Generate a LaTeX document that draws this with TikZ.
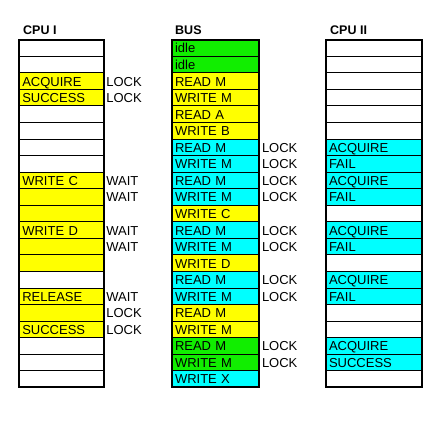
\documentclass[tikz,border=0pt]{standalone}
\usepackage{fontspec}
\setmainfont{Liberation Sans}
\definecolor{cy}{HTML}{00FFFF}
\definecolor{ye}{HTML}{FFFF00}
\definecolor{gr}{HTML}{11EE00}
\begin{document}
\begin{tikzpicture}[x=1pt,y=-1pt,
  cell/.style={draw, line width=0.8pt, anchor=north west, minimum height=16.55pt,
    inner xsep=3pt, inner ysep=0pt, outer sep=0pt, align=left,
    text height=11pt, text depth=1pt, font=\fontsize{13}{13}\selectfont},
  side/.style={anchor=west, inner xsep=2.5pt, inner ysep=0pt,
    text height=11pt, text depth=1pt, font=\fontsize{13}{13}\selectfont},
  head/.style={anchor=base west, inner sep=0pt, font=\fontsize{12.5}{12.5}\selectfont\bfseries},
  frame/.style={line width=2pt}]
\useasboundingbox (0,0) rectangle (448,422);
% headers
\node[head] (h1) at (23,35) {CPU I};
\node[head] (h2) at (175,35) {BUS};
\node[head] (h3) at (330,35) {CPU II};
% CPU I
\foreach \r/\f/\t in {1/white/{},2/white/{},3/ye/ACQUIRE,4/ye/SUCCESS,5/white/{},6/white/{},7/white/{},8/white/{},
  9/ye/WRITE C,10/ye/{},11/ye/{},12/ye/WRITE D,13/ye/{},14/ye/{},15/white/{},16/ye/RELEASE,17/ye/{},18/ye/SUCCESS,
  19/white/{},20/white/{},21/white/{}}
  \node[cell, fill=\f, text width=78.4pt] (a\r) at (19.3,{39.7+(\r-1)*16.55}) {\t};
\foreach \r/\l in {3/LOCK,4/LOCK,9/WAIT,10/WAIT,12/WAIT,13/WAIT,16/WAIT,17/LOCK,18/LOCK}
  \node[side] (al\r) at (a\r.east) {\l};
% BUS
\foreach \r/\f/\t in {1/gr/idle,2/gr/idle,3/ye/READ M,4/ye/WRITE M,5/ye/READ A,6/ye/WRITE B,7/cy/READ M,8/cy/WRITE M,
  9/cy/READ M,10/cy/WRITE M,11/ye/WRITE C,12/cy/READ M,13/cy/WRITE M,14/ye/WRITE D,15/cy/READ M,16/cy/WRITE M,
  17/ye/READ M,18/ye/WRITE M,19/gr/READ M,20/gr/WRITE M,21/cy/WRITE X}
  \node[cell, fill=\f, text width=81.3pt] (b\r) at (172,{39.7+(\r-1)*16.55}) {\t};
\foreach \r in {7,8,9,10,12,13,15,16,19,20}
  \node[side] (bl\r) at (b\r.east) {LOCK};
% CPU II
\foreach \r/\f/\t in {1/white/{},2/white/{},3/white/{},4/white/{},5/white/{},6/white/{},7/cy/ACQUIRE,8/cy/FAIL,
  9/cy/ACQUIRE,10/cy/FAIL,11/white/{},12/cy/ACQUIRE,13/cy/FAIL,14/white/{},15/cy/ACQUIRE,16/cy/FAIL,
  17/white/{},18/white/{},19/cy/ACQUIRE,20/cy/SUCCESS,21/white/{}}
  \node[cell, fill=\f, text width=89.7pt] (c\r) at (326,{39.7+(\r-1)*16.55}) {\t};
% frames
\draw[frame] (a1.north west) rectangle (a21.south east);
\draw[frame] (b1.north west) rectangle (b21.south east);
\draw[frame] (c1.north west) rectangle (c21.south east);
\end{tikzpicture}
\end{document}
